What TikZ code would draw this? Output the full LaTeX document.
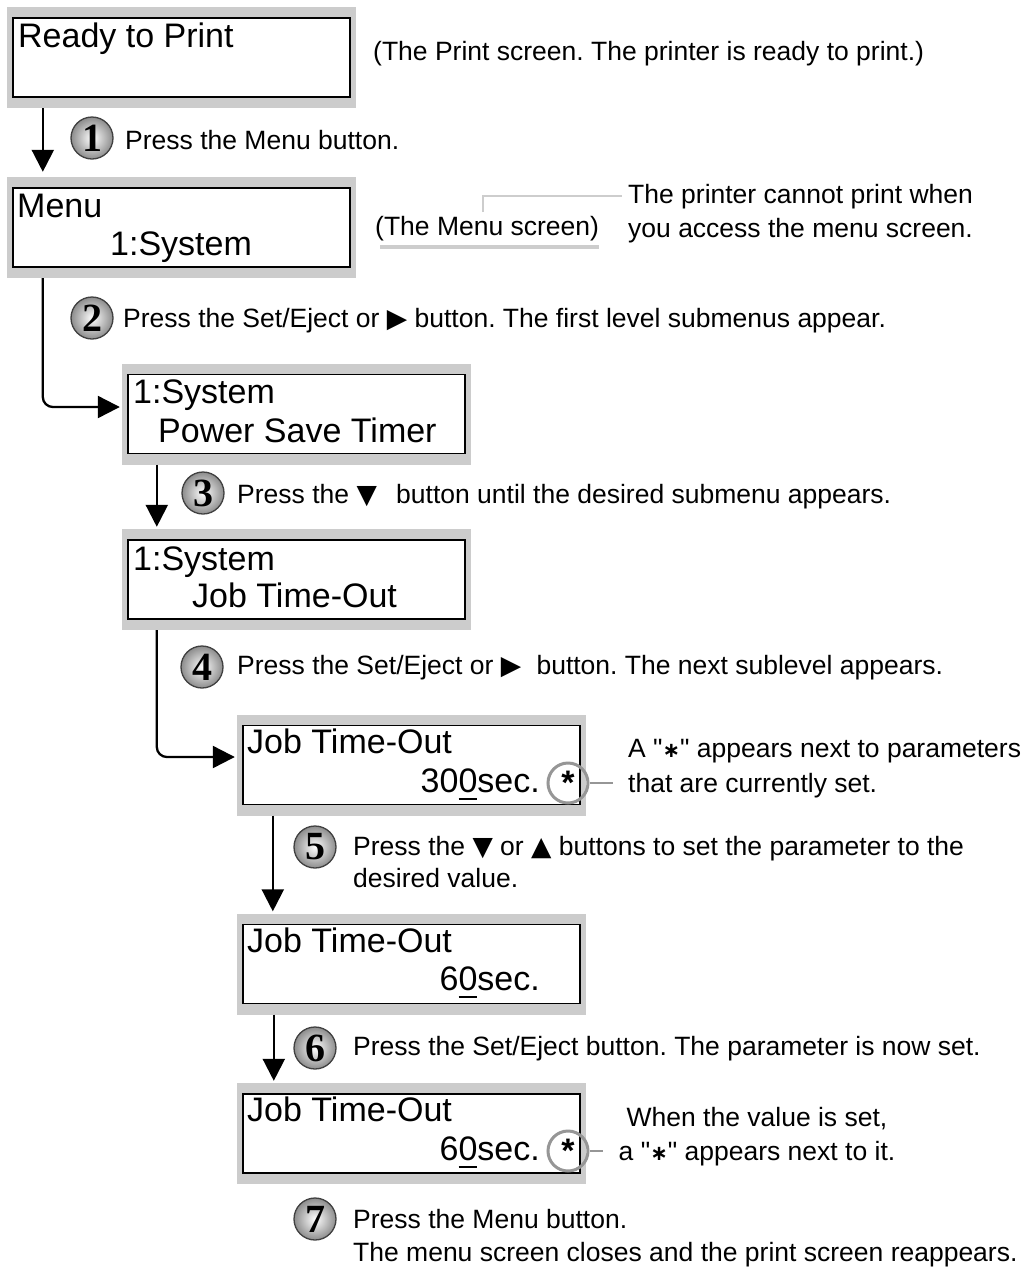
\documentclass[tikz,border=0pt]{standalone}
\usepackage{fontspec}
\setmainfont{Liberation Sans}[Ligatures=TeXOff]
\newfontfamily\numfont{Liberation Serif}
\newfontfamily\symfont{DejaVu Sans}
\usetikzlibrary{arrows.meta}
\definecolor{lcdgray}{RGB}{204,204,204}
\definecolor{markgray}{RGB}{150,150,150}
\definecolor{calloutgray}{RGB}{205,205,205}
\newcommand{\cursordigit}[1]{\setbox0\hbox{#1}\rlap{\rule[-8pt]{\wd0}{1.8pt}}#1}
\newcommand{\starsign}{{\fontsize{21}{21}\symfont\bfseries ∗}}
\frenchspacing

\begin{document}
\begin{tikzpicture}[
  x=1pt,y=-1pt,
  lcd/.style={rectangle,fill=lcdgray,minimum width=349pt,minimum height=101pt,inner sep=0pt,
    path picture={\draw[fill=white,line width=1.2pt]
      ([shift={(6pt,11pt)}]path picture bounding box.south west) rectangle
      ([shift={(-6pt,-11pt)}]path picture bounding box.north east);}},
  screen/.style={anchor=base west,inner sep=0pt,font=\fontsize{34}{40}\selectfont},
  screenR/.style={screen,anchor=base east},
  badge/.style={circle,minimum size=42pt,inner sep=0pt,shading=radial,inner color=white,
    outer color=black!45,draw=black!75,line width=1.3pt,font=\fontsize{40}{40}\numfont\bfseries},
  note/.style={anchor=base west,inner sep=0pt,font=\fontsize{26.5}{33}\selectfont},
  flow/.style={line width=2.3pt,shorten >=2pt,-{Triangle[length=22pt,width=22pt]}},
  ringmark/.style={circle,draw=markgray,line width=3pt,minimum size=40pt,inner sep=0pt,
    font=\fontsize{34}{34}\selectfont\bfseries},
  leader/.style={draw=markgray,line width=1.5pt},
  callout/.style={draw=calloutgray,line width=1.5pt}
]
  \useasboundingbox (0,0) rectangle (1028,1267);

  % LCD screens, top to bottom.
  \node[lcd] (rdy) at (181.5,57.5) {};
  \node[lcd] (menu) at (181.5,227.5) {};
  \node[lcd] (sys1) at (296.5,414) {};
  \node[lcd] (sys2) at (296.5,579.5) {};
  \node[lcd] (jto1) at (411.5,765) {};
  \node[lcd] (jto2) at (411.5,964) {};
  \node[lcd] (jto3) at (411.5,1133.5) {};

  % What each screen shows.
  \node[screen] (rdyA) at (18,47) {Ready to Print};
  \node[screen] (menuA) at (17,217) {Menu};
  \node[screen] (menuB) at (110,255) {1:System};
  \node[screen] (sys1A) at (133,403) {1:System};
  \node[screen] (sys1B) at (158,442) {Power Save Timer};
  \node[screen] (sys2A) at (133,570) {1:System};
  \node[screen] (sys2B) at (192,607) {Job Time-Out};
  \node[screen] (jto1A) at (247,753) {Job Time-Out};
  \node[screenR] (jto1B) at (540,792) {30\cursordigit{0}sec.};
  \node[screen] (jto2A) at (247,952) {Job Time-Out};
  \node[screenR] (jto2B) at (540,990) {6\cursordigit{0}sec.};
  \node[screen] (jto3A) at (247,1121) {Job Time-Out};
  \node[screenR] (jto3B) at (540,1160) {6\cursordigit{0}sec.};

  % Flow between the screens.
  \draw[flow,shorten >=5pt] ([xshift=36pt]rdy.south west) -- ([xshift=36pt]menu.north west);
  \draw[flow,rounded corners=10pt] ([xshift=36pt]menu.south west) |- ([yshift=7pt]sys1.west);
  \draw[flow] ([xshift=35pt]sys1.south west) -- ([xshift=35pt]sys2.north west);
  \draw[flow,rounded corners=10pt] ([xshift=35pt]sys2.south west) |- ([yshift=8pt]jto1.west);
  \draw[flow] ([xshift=36pt]jto1.south west) -- ([xshift=36pt]jto2.north west);
  \draw[flow] ([xshift=37pt]jto2.south west) -- ([xshift=37pt]jto3.north west);

  % Numbered steps.
  \node[badge] (s1) at (92,138) {1};
  \node[note] (s1t) at (125,149) {Press the Menu button.};
  \node[badge] (s2) at (92,318) {2};
  \node[note] (s2t) at (123,327) {Press the Set/Eject or {\symfont ▶} button. The first level submenus appear.};
  \node[badge] (s3) at (203,493) {3};
  \node[note] (s3t) at (237,503) {Press the {\symfont ▼}\hspace{0.45em} button until the desired submenu appears.};
  \node[badge] (s4) at (202,667) {4};
  \node[note] (s4t) at (237,674) {Press the Set/Eject or {\symfont ▶}\hspace{0.3em} button. The next sublevel appears.};
  \node[badge] (s5) at (315,847) {5};
  \node[note] (s5t) at (353,855) {Press the {\symfont ▼} or {\symfont ▲} buttons to set the parameter to the};
  \node[note] (s5u) at (353,887) {desired value.};
  \node[badge] (s6) at (315,1048) {6};
  \node[note] (s6t) at (353,1055) {Press the Set/Eject button. The parameter is now set.};
  \node[badge] (s7) at (315,1219) {7};
  \node[note] (s7t) at (353,1228) {Press the Menu button.};
  \node[note] (s7u) at (353,1261) {The menu screen closes and the print screen reappears.};

  % Remarks beside the screens.
  \node[note] (rdyN) at (373,60) {(The Print screen. The printer is ready to print.)};
  \node[note] (menuN) at (375,235) {(The Menu screen)};
  \draw[calloutgray,line width=4pt] ([shift={(5pt,-6pt)}]menuN.south west) -- ([shift={(0pt,-6pt)}]menuN.south east);
  \node[note] (menuC1) at (628,203) {The printer cannot print when};
  \node[note] (menuC2) at (628,237) {you access the menu screen.};
  \coordinate (menuTick) at (483,212);
  \draw[callout,shorten >=6pt] (menuTick) |- (menuC1.west);

  % Marks for the current value.
  \node[ringmark] (star1) at (568,783) {*};
  \coordinate (star1end) at (613,783);
  \draw[leader] (star1) -- (star1end);
  \node[note] (star1A) at (628,757) {A "\starsign" appears next to parameters};
  \node[note] (star1B) at (628,792) {that are currently set.};

  \node[ringmark] (star2) at (568,1151) {*};
  \coordinate (star2end) at (603,1151);
  \draw[leader] (star2) -- (star2end);
  \node[note,anchor=base] (set1) at (757,1126) {When the value is set,};
  \node[note,anchor=base] (set2) at (757,1160) {a "\starsign" appears next to it.};
\end{tikzpicture}
\end{document}
